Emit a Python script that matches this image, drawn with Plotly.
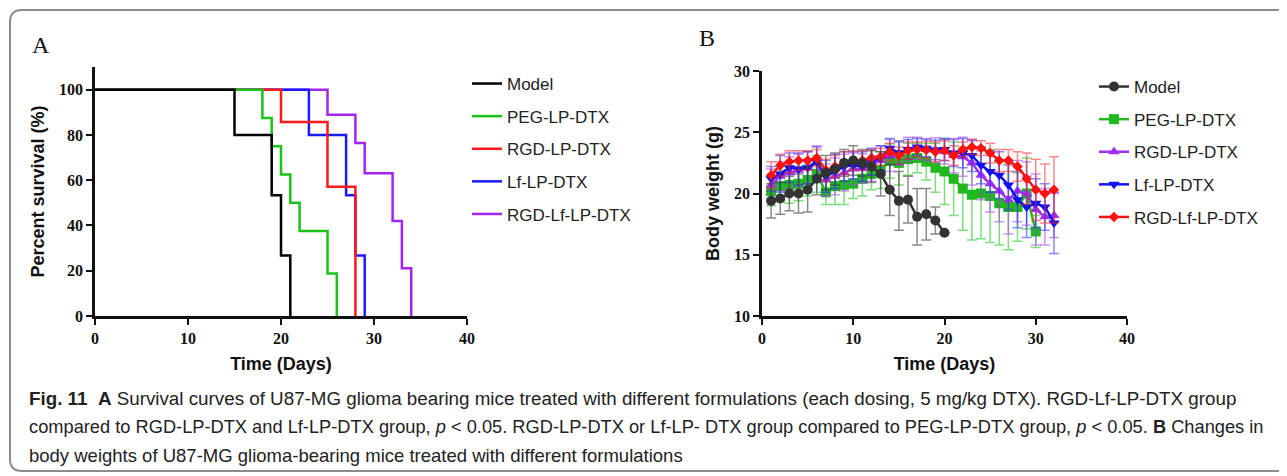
import plotly.graph_objects as go

# the page body adds an 8px margin, so the figure is drawn 8px smaller and shifted
OFF = 8
W, H = 1287 - OFF, 476 - OFF

# ---- panel A: survival (Kaplan-Meier steps) ----
group_names = ["Model", "PEG-LP-DTX", "RGD-LP-DTX", "Lf-LP-DTX", "RGD-Lf-LP-DTX"]

surv_model_t = [0, 15, 19, 20, 21]
surv_model_p = [100, 80, 53.3, 26.7, 0]
surv_peg_t = [0, 18, 19, 20, 21, 22, 25, 26]
surv_peg_p = [100, 87.5, 75, 62.5, 50, 37.5, 18.75, 0]
surv_rgd_t = [0, 20, 25, 28]
surv_rgd_p = [100, 85.7, 57.1, 0]
surv_lf_t = [0, 23, 27, 28, 29]
surv_lf_p = [100, 80, 53.3, 26.7, 0]
surv_rgdlf_t = [0, 25, 28, 29, 32, 33, 34]
surv_rgdlf_p = [100, 88.9, 76.4, 63.1, 42.0, 21.1, 0]

# ---- panel B: body weight (mean, sd) by day ----
model_w = [19.4, 19.6, 20.0, 20.0, 20.3, 21.2, 21.7, 22.0, 22.5, 22.7, 22.5, 22.2, 21.6, 20.3,
           19.4, 19.5, 18.1, 18.3, 17.8, 16.8]
model_sd = [1.4, 1.3, 1.4, 1.6, 1.8, 1.3, 1.4, 1.3, 1.1, 1.2, 1.1, 1.3, 1.8, 2.1,
            2.4, 1.9, 2.3, 2.1, 1.1, 0]
peg_w = [20.2, 20.6, 20.7, 20.8, 21.1, 21.6, 20.1, 20.6, 20.7, 20.8, 21.2, 21.6, 21.9, 22.65,
         22.5, 22.8, 22.9, 22.6, 22.1, 21.8, 21.2, 20.4, 19.9, 20.0, 19.8, 19.2, 18.9, 18.9,
         20.0, 16.9]
peg_sd = [1.2, 1.3, 1.5, 1.4, 1.3, 1.5, 1.0, 1.5, 1.6, 1.2, 1.4, 1.3, 1.5, 1.4,
          1.8, 1.3, 1.2, 1.5, 2.0, 2.7, 3.0, 3.4, 3.7, 3.7, 3.8, 3.4, 3.5, 2.8,
          2.9, 1.3]
rgd_w = [20.7, 21.4, 21.7, 21.9, 22.1, 22.5, 21.1, 21.4, 21.7, 22.0, 22.05, 22.3, 22.7, 23.1,
         23.3, 23.6, 23.7, 23.6, 23.55, 23.4, 23.1, 23.0, 22.5, 21.5, 20.8, 20.2, 19.5, 20.2,
         20.0, 18.7, 18.1, 18.2]
rgd_sd = [1.3, 1.2, 1.3, 1.3, 1.3, 1.4, 1.3, 1.5, 1.5, 1.3, 1.2, 1.3, 1.2, 1.3,
          1.0, 1.0, 0.9, 0.9, 1.0, 1.0, 1.4, 1.6, 1.8, 2.0, 2.3, 2.5, 2.8, 2.5,
          2.6, 2.9, 2.3, 1.8]
lf_w = [21.2, 21.6, 22.1, 22.0, 22.1, 22.6, 21.4, 21.8, 22.2, 22.3, 22.2, 22.6, 22.9, 23.7,
        23.3, 23.6, 23.8, 23.7, 23.55, 23.6, 23.3, 23.3, 23.1, 22.3, 21.8, 21.5, 20.7, 19.5,
        18.9, 19.2, 18.9, 17.6]
lf_sd = [1.0, 1.5, 1.2, 1.3, 1.3, 1.2, 1.3, 1.4, 1.2, 1.1, 1.2, 1.1, 1.0, 0.8,
         0.9, 0.8, 0.7, 0.7, 0.8, 0.9, 1.1, 1.2, 1.3, 1.5, 1.7, 1.9, 2.0, 2.3,
         2.5, 2.0, 1.9, 2.5]
rgdlf_w = [21.5, 22.3, 22.6, 22.7, 22.7, 22.9, 21.9, 22.2, 22.5, 22.7, 22.7, 22.9, 23.0, 23.4,
           23.1, 23.5, 23.6, 23.55, 23.4, 23.5, 23.1, 23.6, 23.8, 23.7, 23.3, 22.7, 22.7, 22.2,
           21.2, 20.3, 20.0, 20.3]
rgdlf_sd = [1.1, 0.9, 0.9, 0.8, 0.8, 0.7, 0.9, 0.9, 0.9, 0.8, 0.8, 0.7, 0.7, 0.7,
            0.7, 0.7, 0.6, 0.7, 0.8, 0.8, 0.8, 0.6, 0.6, 0.6, 0.8, 0.9, 0.9, 1.2,
            2.1, 2.5, 2.4, 2.7]

caption_lines = [
    "<b>Fig. 11</b>  <b>A</b> Survival curves of U87-MG glioma bearing mice treated with different "
    "formulations (each dosing, 5 mg/kg DTX). RGD-Lf-LP-DTX group",
    "compared to RGD-LP-DTX and Lf-LP-DTX group, <i>p</i> &lt; 0.05. RGD-LP-DTX or Lf-LP- DTX group "
    "compared to PEG-LP-DTX group, <i>p</i> &lt; 0.05. <b>B</b> Changes in",
    "body weights of U87-MG glioma-bearing mice treated with different formulations",
]
caption_sizes = [18.8, 18.25, 18.5]

colors_a = ["#000000", "#19c319", "#ff1a1a", "#1a1aff", "#a326f0"]
colors_b = ["#333333", "#1fb81f", "#a030f0", "#1010f0", "#ff1010"]
err_b = ["rgba(60,60,60,0.6)", "rgba(40,200,40,0.6)", "rgba(170,60,240,0.55)",
         "rgba(40,40,255,0.55)", "rgba(255,40,40,0.55)"]
symbols_b = ["circle", "square", "triangle-up", "triangle-down", "diamond"]


def px_x(p):
    return (p - OFF) / W


def px_y(p):
    return 1 - (p - OFF) / H


fig = go.Figure()

surv = [(surv_model_t, surv_model_p), (surv_peg_t, surv_peg_p), (surv_rgd_t, surv_rgd_p),
        (surv_lf_t, surv_lf_p), (surv_rgdlf_t, surv_rgdlf_p)]
# draw order: purple at the back, black on top
for i in [4, 3, 2, 1, 0]:
    t, p = surv[i]
    fig.add_trace(go.Scatter(
        x=t, y=p, mode="lines", line=dict(color=colors_a[i], width=2.5, shape="hv"),
        name=group_names[i], legend="legend", legendrank=i + 1, legendgroup="a%d" % i,
        xaxis="x", yaxis="y", cliponaxis=False,
    ))

weights = [(model_w, model_sd), (peg_w, peg_sd), (rgd_w, rgd_sd), (lf_w, lf_sd), (rgdlf_w, rgdlf_sd)]
for i in [1, 2, 3, 4, 0]:
    w, sd = weights[i]
    days = list(range(1, len(w) + 1))
    fig.add_trace(go.Scatter(
        x=days, y=w, mode="lines+markers",
        line=dict(color=colors_b[i], width=2.5),
        marker=dict(symbol=symbols_b[i], size=10 if i != 4 else 8, color=colors_b[i]),
        error_y=dict(type="data", array=sd, color=err_b[i], thickness=1.5, width=5),
        name=group_names[i], legend="legend2", legendrank=i + 1, legendgroup="b%d" % i,
        xaxis="x2", yaxis="y2",
    ))

tick_font = dict(family="Liberation Serif", size=16, color="#111")
title_font = dict(family="Liberation Sans", size=18, color="#111")
axis_common = dict(showline=True, linecolor="#111", linewidth=2.5, ticks="outside",
                   ticklen=6, tickwidth=2, tickcolor="#111", showgrid=False, zeroline=False,
                   tickfont=tick_font, title_font=title_font)

legend_common = dict(xanchor="left", yanchor="top",
                     font=dict(family="Liberation Sans", size=17, color="#222"),
                     tracegroupgap=7.5, traceorder="grouped", itemwidth=30,
                     bgcolor="rgba(0,0,0,0)")

fig.update_layout(
    width=W, height=H,
    margin=dict(l=0, r=0, t=0, b=0, pad=0, autoexpand=False),
    paper_bgcolor="white", plot_bgcolor="white",
    showlegend=True,
    xaxis=dict(domain=[px_x(95), px_x(467)], range=[0, 40], tickvals=[0, 10, 20, 30, 40],
               ticktext=["<b>0</b>", "<b>10</b>", "<b>20</b>", "<b>30</b>", "<b>40</b>"],
               anchor="y", title=dict(text="<b>Time (Days)</b>", standoff=12), **axis_common),
    yaxis=dict(domain=[px_y(316), px_y(67)], range=[0, 110], tickvals=[0, 20, 40, 60, 80, 100],
               ticktext=["<b>%d</b>" % v for v in [0, 20, 40, 60, 80, 100]],
               anchor="x", title=dict(text="<b>Percent survival (%)</b>", standoff=10), **axis_common),
    xaxis2=dict(domain=[px_x(762), px_x(1127)], range=[0, 40], tickvals=[0, 10, 20, 30, 40],
                ticktext=["<b>0</b>", "<b>10</b>", "<b>20</b>", "<b>30</b>", "<b>40</b>"],
                anchor="y2", title=dict(text="<b>Time (Days)</b>", standoff=12), **axis_common),
    yaxis2=dict(domain=[px_y(316), px_y(71)], range=[10, 30], tickvals=[10, 15, 20, 25, 30],
                ticktext=["<b>%d</b>" % v for v in [10, 15, 20, 25, 30]],
                anchor="x2", title=dict(text="<b>Body weight (g)</b>", standoff=10), **axis_common),
    legend=dict(x=px_x(467), y=px_y(66), **legend_common),
    legend2=dict(x=px_x(1094), y=px_y(69), **legend_common),
)

annotations = [
    dict(text="A", x=px_x(30), y=px_y(45), xanchor="left", yanchor="middle",
         font=dict(family="Liberation Serif", size=24, color="#111")),
    dict(text="B", x=px_x(697), y=px_y(38), xanchor="left", yanchor="middle",
         font=dict(family="Liberation Serif", size=24, color="#111")),
]
for k, line in enumerate(caption_lines):
    annotations.append(dict(
        text=line, x=px_x(27), y=px_y(398 + 28.5 * k), xanchor="left", yanchor="middle",
        font=dict(family="Liberation Sans", size=caption_sizes[k], color="#222"),
    ))
for a in annotations:
    a.update(xref="paper", yref="paper", showarrow=False)
fig.update_layout(annotations=annotations)

# rounded frame of the figure box
r = 12
x0, y0, y1, x1 = 10, 10, 471, 1300
path = (
    f"M {px_x(x1)},{px_y(y0)} L {px_x(x0 + r)},{px_y(y0)} "
    f"Q {px_x(x0)},{px_y(y0)} {px_x(x0)},{px_y(y0 + r)} "
    f"L {px_x(x0)},{px_y(y1 - r)} Q {px_x(x0)},{px_y(y1)} {px_x(x0 + r)},{px_y(y1)} "
    f"L {px_x(x1)},{px_y(y1)}"
)
fig.add_shape(type="path", path=path, xref="paper", yref="paper",
              line=dict(color="#8c8c8c", width=2))

fig.write_html("out.html")
